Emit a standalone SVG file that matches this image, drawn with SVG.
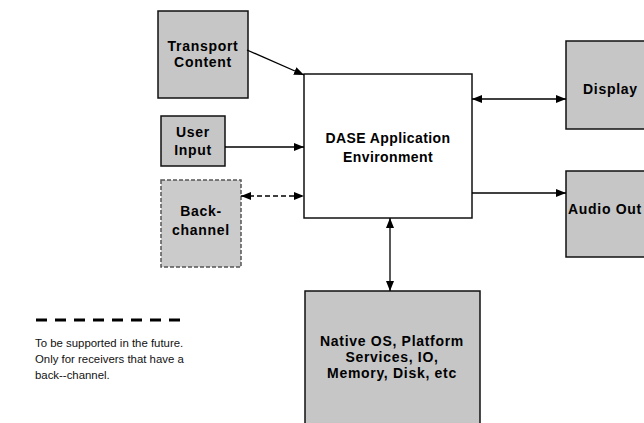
<svg xmlns="http://www.w3.org/2000/svg" width="644" height="423" viewBox="0 0 644 423">
<style>
.box{fill:#c6c6c6;stroke:#111;stroke-width:1.5}
.dbox{fill:#cbcbcb;stroke:#555;stroke-width:1.5;stroke-dasharray:4 2}
.main{fill:#fff;stroke:#111;stroke-width:1.5}
.lbl{font-family:"Liberation Sans",Arial,sans-serif;font-weight:bold;font-size:14px;letter-spacing:0.7px;fill:#000;text-anchor:middle}
.note{font-family:"Liberation Sans",Arial,sans-serif;font-size:11.4px;fill:#111}
.ln{stroke:#000;stroke-width:1.3;fill:none}
</style>
<defs>
<marker id="ah" viewBox="0 0 10 8" refX="10" refY="4" markerWidth="10" markerHeight="8" markerUnits="userSpaceOnUse" orient="auto-start-reverse"><path d="M0,0 L10,4 L0,8 Z" fill="#000"/></marker>
</defs>
<g id="transport"><rect class="box" x="158" y="11" width="90" height="87"/><text class="lbl" x="203" y="51">Transport</text><text class="lbl" x="203" y="67">Content</text></g>
<g id="userinput"><rect class="box" x="161" y="116" width="64" height="50"/><text class="lbl" x="193" y="137">User</text><text class="lbl" x="193" y="155">Input</text></g>
<g id="backchannel"><rect class="dbox" x="161" y="180" width="80" height="87"/><text class="lbl" x="201" y="216">Back-</text><text class="lbl" x="201" y="235">channel</text></g>
<g id="dase"><rect class="main" x="304" y="74" width="168" height="144"/><text class="lbl" x="388" y="143" style="letter-spacing:0.4px">DASE Application</text><text class="lbl" x="388" y="162" style="letter-spacing:0.4px">Environment</text></g>
<g id="display"><rect class="box" x="566" y="41" width="80" height="88"/><text class="lbl" x="583" y="94" style="text-anchor:start">Display</text></g>
<g id="audioout"><rect class="box" x="566" y="171" width="80" height="86"/><text class="lbl" x="568" y="214" style="text-anchor:start">Audio Out</text></g>
<g id="native"><rect class="box" x="305" y="291" width="175" height="134"/><text class="lbl" x="392" y="346">Native OS, Platform</text><text class="lbl" x="392" y="362">Services, IO,</text><text class="lbl" x="392" y="378">Memory, Disk, etc</text></g>
<g id="connectors">
<line class="ln" x1="247" y1="50" x2="304" y2="75" marker-end="url(#ah)"/>
<line class="ln" x1="225" y1="147" x2="304" y2="147" marker-end="url(#ah)"/>
<line class="ln" x1="241" y1="196" x2="304" y2="196" stroke-dasharray="5 3" marker-start="url(#ah)" marker-end="url(#ah)"/>
<line class="ln" x1="472" y1="99" x2="566" y2="99" marker-start="url(#ah)" marker-end="url(#ah)"/>
<line class="ln" x1="472" y1="193" x2="566" y2="193" marker-end="url(#ah)"/>
<line class="ln" x1="390" y1="218" x2="390" y2="291" marker-start="url(#ah)" marker-end="url(#ah)"/>
</g>
<g id="legend">
<line x1="36" y1="320" x2="186" y2="320" stroke="#000" stroke-width="3" stroke-dasharray="11 8"/>
<text class="note" x="35" y="347">To be supported in the future.</text>
<text class="note" x="35" y="363">Only for receivers that have a</text>
<text class="note" x="35" y="379">back--channel.</text>
</g>
</svg>
